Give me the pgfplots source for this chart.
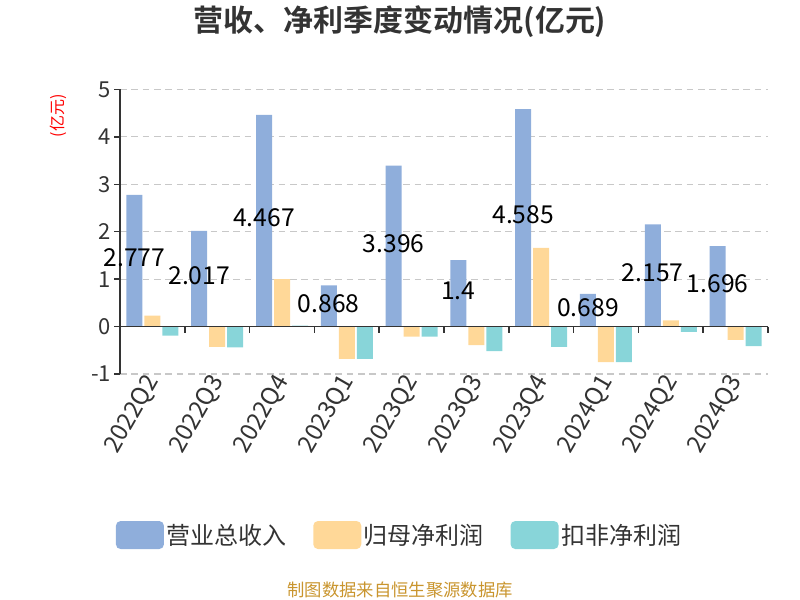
\documentclass[border=0pt]{standalone}
\usepackage{pgfplots}
\pgfplotsset{compat=1.18}
\usepackage{fontspec}
\setmainfont{Noto Sans CJK SC}[BoldFont={Noto Sans CJK SC Bold}]
\definecolor{cblue}{HTML}{8FAEDB}
\definecolor{corange}{HTML}{FFD898}
\definecolor{ccyan}{HTML}{88D5D9}
\definecolor{ctext}{HTML}{333333}
\definecolor{cgrid}{HTML}{C8C8C8}
\definecolor{cfoot}{HTML}{C9952E}
\begin{document}
\begin{tikzpicture}
\begin{axis}[
  at={(90pt,169.5pt)}, anchor=south west,
  scale only axis, width=486pt, height=213.4pt,
  xmin=-0.5, xmax=9.5, ymin=-1, ymax=5,
  axis line style={draw=none},
  xtick={0,...,9},
  xticklabels={2022Q2,2022Q3,2022Q4,2023Q1,2023Q2,2023Q3,2023Q4,2024Q1,2024Q2,2024Q3},
  major x tick style={draw=none},
  xticklabel style={rotate=60, anchor=east, font=\fontsize{18pt}{20pt}\selectfont, text=ctext, inner sep=1pt, xshift=3pt},
  ytick={-1,0,1,2,3,4,5},
  ytick pos=left, tick align=outside, major tick length=4.5pt,
  major y tick style={ctext, line width=1.1pt},
  yticklabel style={font=\fontsize{16.5pt}{18pt}\selectfont, text=ctext, inner sep=2pt},
  /pgf/number format/assume math mode=true,
  ymajorgrids, grid style={cgrid, dashed, dash pattern=on 5pt off 3.5pt, line width=0.9pt},
  legend columns=3,
  legend style={at={(0.432,-0.566)}, anchor=center, draw=none, fill=none,
    font=\fontsize{18pt}{20pt}\selectfont, text=ctext,
    /tikz/every even column/.append style={column sep=18pt}},
  legend cell align=left,
  clip=false,
]
\addplot[ybar, bar width=12pt, bar shift=-13.5pt, fill=cblue, draw=none,
  legend image code/.code={\fill[cblue, rounded corners=3.5pt] (0pt,-10.5pt) rectangle (36pt,10.5pt);}]
  coordinates {(0,2.777) (1,2.017) (2,4.467) (3,0.868) (4,3.396) (5,1.4) (6,4.585) (7,0.689) (8,2.157) (9,1.696)};
\addlegendentry{营业总收入}
\addplot[ybar, bar width=12pt, bar shift=0pt, fill=corange, draw=none,
  legend image code/.code={\fill[corange, rounded corners=3.5pt] (0pt,-10.5pt) rectangle (36pt,10.5pt);}]
  coordinates {(0,0.23) (1,-0.43) (2,1.0) (3,-0.68) (4,-0.21) (5,-0.39) (6,1.66) (7,-0.75) (8,0.13) (9,-0.28)};
\addlegendentry{归母净利润}
\addplot[ybar, bar width=12pt, bar shift=13.5pt, fill=ccyan, draw=none,
  legend image code/.code={\fill[ccyan, rounded corners=3.5pt] (0pt,-10.5pt) rectangle (36pt,10.5pt);}]
  coordinates {(0,-0.19) (1,-0.44) (2,0.02) (3,-0.68) (4,-0.21) (5,-0.52) (6,-0.43) (7,-0.75) (8,-0.11) (9,-0.41)};
\addlegendentry{扣非净利润}
% zero line, y axis line and category ticks
\draw[ctext, line width=1.1pt] (axis cs:-0.5,0) -- (axis cs:9.5,0);
\draw[ctext, line width=1.1pt] (axis cs:-0.5,-1) -- (axis cs:-0.5,5);
\pgfplotsinvokeforeach{-0.5,0.5,1.5,2.5,3.5,4.5,5.5,6.5,7.5,8.5,9.5}{
  \draw[ctext, line width=1.1pt] (axis cs:#1,0) -- ++(0pt,-4.5pt);
}
% value labels at half height of the revenue bars
\addplot[only marks, mark=none, forget plot,
  nodes near coords, point meta=explicit symbolic,
  every node near coord/.append style={anchor=center, xshift=-13.5pt, yshift=2pt,
    font=\fontsize{18.5pt}{20pt}\selectfont, text=black}]
  coordinates {(0,1.3885) [2.777] (1,1.0085) [2.017] (2,2.2335) [4.467] (3,0.434) [0.868]
    (4,1.698) [3.396] (5,0.7) [1.4] (6,2.2925) [4.585] (7,0.3445) [0.689]
    (8,1.0785) [2.157] (9,0.848) [1.696]};
\end{axis}
\node[font=\fontsize{22.5pt}{24pt}\selectfont\bfseries, text=ctext] at (300pt,433.5pt) {营收、净利季度变动情况(亿元)};
\node[font=\fontsize{12pt}{13pt}\selectfont, text=red, rotate=90] at (43.5pt,363pt) {(亿元)};
\node[font=\fontsize{13pt}{14pt}\selectfont, text=cfoot] at (300pt,7.5pt) {制图数据来自恒生聚源数据库};
\pgfresetboundingbox
\path[use as bounding box] (0,0) rectangle (600pt,450pt);
\end{tikzpicture}
\end{document}
